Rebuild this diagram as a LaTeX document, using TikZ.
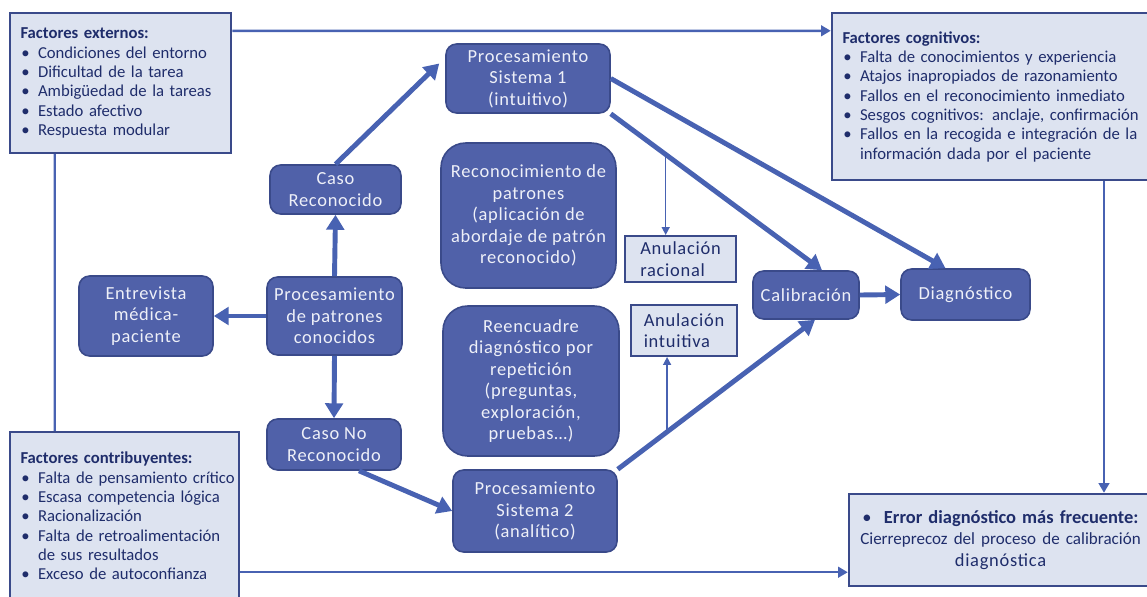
\documentclass[tikz,border=0pt]{standalone}
\usepackage{fontspec}
\setmainfont{Carlito}
\newfontfamily\spaced[LetterSpace=4]{Carlito}
\usepackage{tikz}
\usetikzlibrary{arrows.meta}

\definecolor{boxblue}{RGB}{80,97,169}
\definecolor{boxedge}{RGB}{58,74,138}
\definecolor{lineblue}{RGB}{72,98,178}
\definecolor{paleblue}{RGB}{221,227,240}
\definecolor{inkblue}{RGB}{31,45,107}
\definecolor{boxtext}{RGB}{238,240,248}
\newcommand{\itm}[1]{\mbox{\makebox[1.05em][l]{\hspace{0.05em}\textbullet}#1}}
\newcommand{\cont}{\hspace*{1.05em}}

\begin{document}
\begin{tikzpicture}[x=0.02cm, y=-0.02cm,
  bbox/.style={draw=boxedge, line width=0.9pt, fill=boxblue, text=boxtext, rounded corners=6pt,
    align=center, font=\spaced\fontsize{10.5}{12.2}\selectfont, inner sep=2pt},
  bigbox/.style={bbox, rounded corners=14pt},
  lbox/.style={draw=boxedge, line width=1.4pt, fill=paleblue, text=inkblue, align=left,
    font=\fontsize{9.5}{11}\selectfont, inner xsep=6pt},
  smallbox/.style={lbox, line width=1.1pt, font=\spaced\fontsize{10.5}{12.2}\selectfont, inner xsep=4pt},
  fat/.style={-{Triangle[length=8.5pt,width=10pt]}, line width=2.8pt, lineblue},
  slim/.style={-{Triangle[length=5.5pt,width=6pt]}, line width=1.4pt, lineblue},
  hair/.style={-{Triangle[length=4.5pt,width=4.5pt]}, line width=0.9pt, lineblue}]
  \useasboundingbox (0,0) rectangle (1147,596);
  \clip (0,0) rectangle (1147,596);

  \node (ext) at (120.5,83) [lbox, minimum width=4.42cm, minimum height=2.8cm, text width=4.0cm]
    {\textbf{Factores externos:}\\
     \itm{Condiciones del entorno}\\
     \itm{Dificultad de la tarea}\\
     \itm{Ambigüedad de la tareas}\\
     \itm{Estado afectivo}\\
     \itm{Respuesta modular}};
  \node (cog) at (998.5,96.5) [lbox, minimum width=6.66cm, minimum height=3.34cm, text width=6.24cm]
    {\textbf{Factores cognitivos:}\\
     \itm{Falta de conocimientos y experiencia}\\
     \itm{Atajos inapropiados de razonamiento}\\
     \itm{Fallos en el reconocimiento inmediato}\\
     \itm{Sesgos cognitivos: anclaje, confirmación}\\
     \itm{Fallos en la recogida e integración de la}\\
     \cont información dada por el paciente};
  \node (contrib) at (124.5,516) [lbox, minimum width=4.58cm, minimum height=3.36cm, text width=4.16cm]
    {\textbf{Factores contribuyentes:}\\
     \itm{Falta de pensamiento crítico}\\
     \itm{Escasa competencia lógica}\\
     \itm{Racionalización}\\
     \itm{Falta de retroalimentación}\\
     \cont de sus resultados\\
     \itm{Exceso de autoconfianza}};
  \node (err) at (1000.5,540) [lbox, align=center, minimum width=6.06cm, minimum height=1.84cm,
    inner xsep=2pt, text width=5.9cm, font=\fontsize{10.5}{12.2}\selectfont]
    {\mbox{\textbullet\ \ \textbf{Error diagnóstico más frecuente:}}\\
     \mbox{\fontsize{9.7}{12.2}\selectfont Cierreprecoz del proceso de calibración}\\
     {\spaced diagnóstica}};

  \node (s1) at (528,78.5) [bbox, minimum width=3.28cm, minimum height=1.38cm]
    {Procesamiento\\Sistema 1\\(intuitivo)};
  \node (cr) at (335.5,189.5) [bbox, minimum width=2.62cm, minimum height=0.98cm]
    {Caso\\Reconocido};
  \node (pat) at (334.5,316) [bbox, minimum width=2.7cm, minimum height=1.56cm]
    {Procesamiento\\de patrones\\conocidos};
  \node (ent) at (146,316) [bbox, minimum width=2.68cm, minimum height=1.6cm]
    {Entrevista\\médica-\\paciente};
  \node (cnr) at (334,444.5) [bbox, minimum width=2.68cm, minimum height=1.02cm]
    {Caso No\\Reconocido};
  \node (s2) at (535,511) [bbox, minimum width=3.28cm, minimum height=1.64cm]
    {Procesamiento\\Sistema 2\\(analítico)};
  \node (rec) at (528.5,215.5) [bigbox, minimum width=3.5cm, minimum height=2.9cm]
    {Reconocimiento de\\patrones\\(aplicación de\\abordaje de patrón\\reconocido)};
  \node (reen) at (531,381) [bigbox, minimum width=3.52cm, minimum height=3.0cm]
    {Reencuadre\\diagnóstico por\\repetición\\(preguntas,\\exploración,\\pruebas\dots)};
  \node (anr) at (680.5,259) [smallbox, minimum width=2.22cm, minimum height=0.92cm]
    {Anulación\\racional};
  \node (ani) at (684,330.5) [smallbox, minimum width=2.12cm, minimum height=1.02cm]
    {Anulación\\intuitiva};
  \node (cal) at (806,295) [bbox, minimum width=2.12cm, minimum height=0.96cm]
    {Calibración};
  \node (diag) at (965.5,294.5) [bbox, minimum width=2.58cm, minimum height=1.02cm]
    {Diagnóstico};

  \draw [slim] ([yshift=-0.38cm]ext.north east) -- ([yshift=-0.38cm]cog.north west);
  \draw [lineblue, line width=1.4pt] ([xshift=0.92cm]ext.south west) -- ([xshift=0.92cm]contrib.north west);
  \coordinate (errin) at ([yshift=0.3cm]err.south west);
  \draw [slim] (errin -| contrib.east) -- (errin);
  \draw [slim] ([xshift=2.11cm]cog.south) -- ([xshift=2.11cm]cog.south |- err.north);

  \draw [fat] (pat.west) -- (ent.east);
  \draw [fat] (pat.north) -- (cr.south);
  \draw [fat] (pat.south) -- (cnr.north);
  \draw [fat] (cr.north) -- ([xshift=-0.12cm, yshift=0.3cm]s1.west);
  \draw [fat] ([xshift=0.5cm]cnr.south) -- (s2.west);
  \draw [fat] (s1.south east) -- coordinate[pos=0.26] (rx) ([xshift=0.32cm]cal.north);
  \draw [fat] (s1.east) -- ([xshift=-0.4cm]diag.north);
  \draw [fat] (s2.north east) -- coordinate[pos=0.25] (ix) ([xshift=0.18cm]cal.south);
  \draw [fat] (cal.east) -- (diag.west);
  \draw [hair] (rx) -- (rx |- anr.north);
  \draw [hair] (ix) -- (ix |- ani.south);
\end{tikzpicture}
\end{document}
